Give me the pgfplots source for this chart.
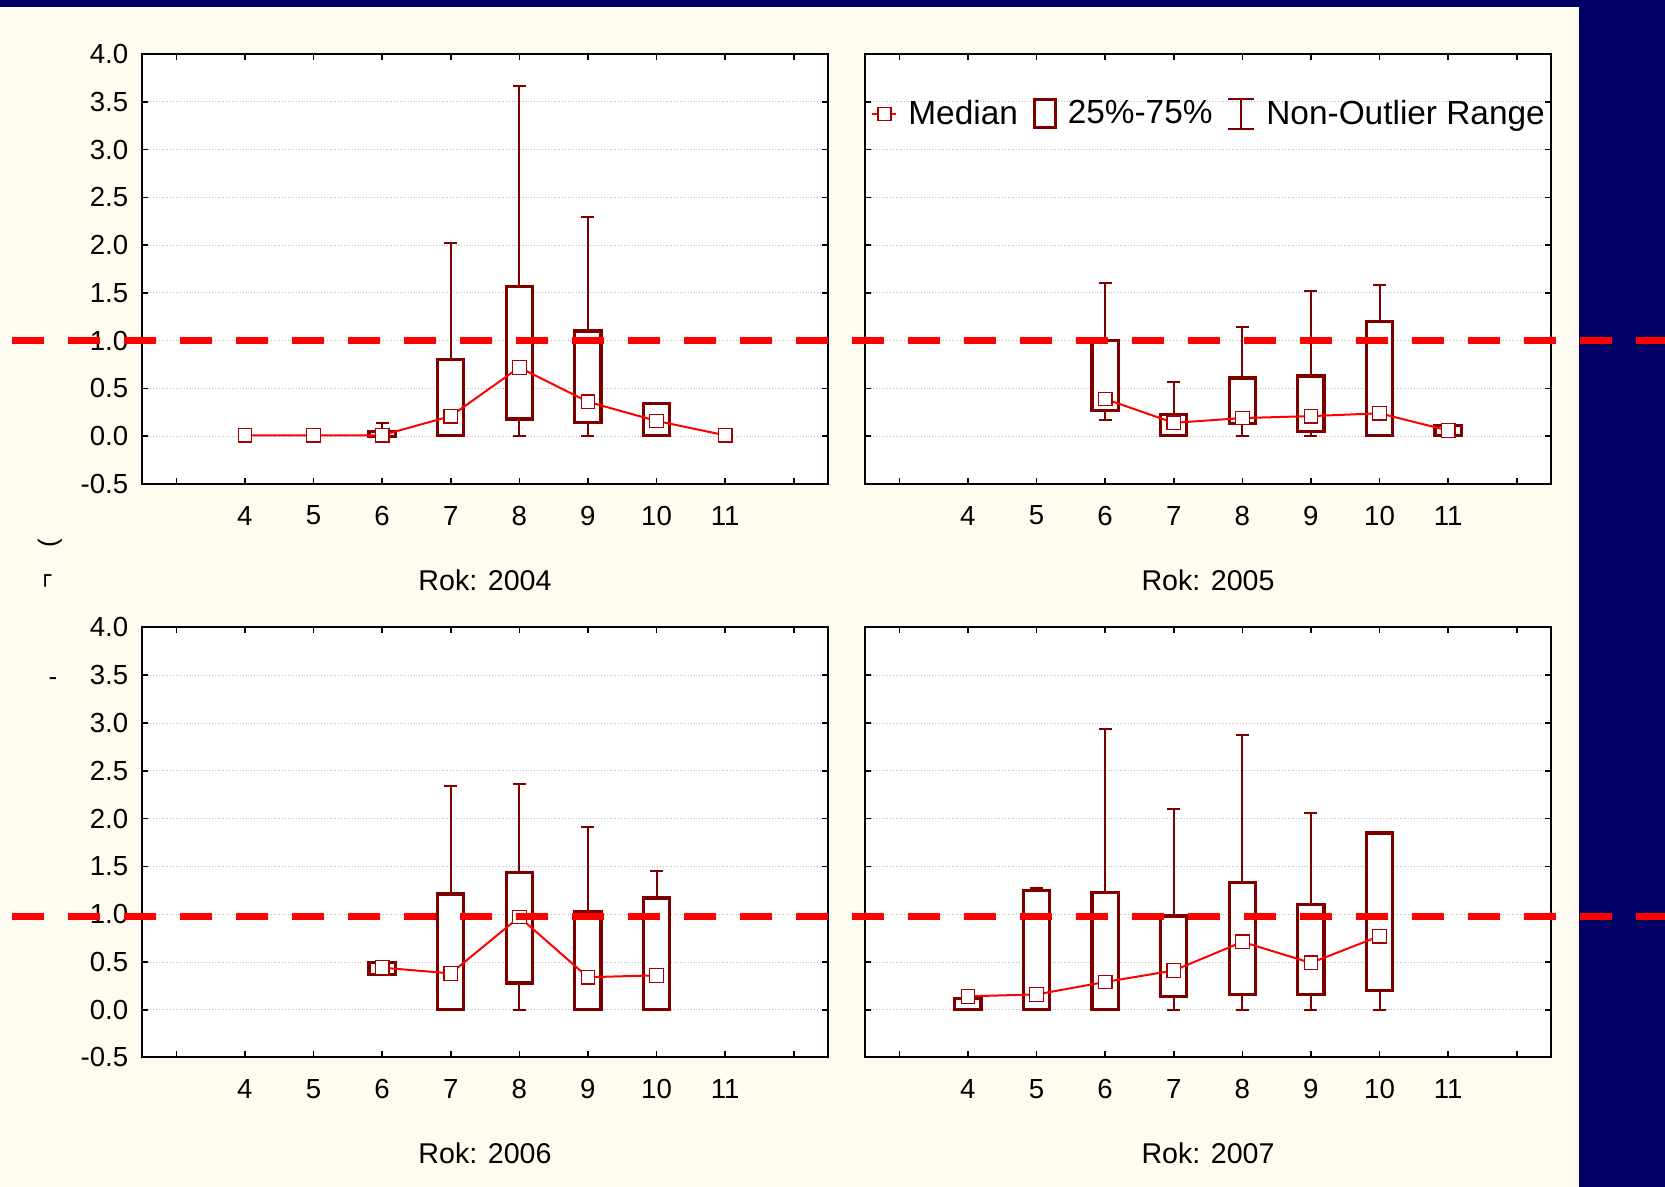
\documentclass[border=0pt]{standalone}
\usepackage{pgfplots}
\pgfplotsset{compat=1.18}
\usepgfplotslibrary{statistics}
\usepackage{fontspec}
\setmainfont{Liberation Sans}

\definecolor{cream}{RGB}{255,251,240}
\definecolor{navy}{RGB}{0,0,102}
\definecolor{boxred}{RGB}{128,0,0}
\definecolor{medred}{RGB}{255,0,0}

\pgfplotsset{
  panel/.style={
    scale only axis, width=343pt, height=215pt, anchor=south west,
    xmin=2.5, xmax=12.5, ymin=-0.5, ymax=4,
    xtick={3,4,5,6,7,8,9,10,11,12},
    xticklabels={,4,5,6,7,8,9,10,11,},
    ytick={-0.5,0,0.5,1,1.5,2,2.5,3,3.5,4},
    ymajorgrids,
    grid style={gray!55, densely dotted, line width=0.4pt},
    axis background/.style={fill=white},
    axis line style={black, line width=1pt},
    major tick style={black, line width=0.8pt},
    major tick length=3pt,
    tick label style={font=\fontsize{13.8}{16}\selectfont},
    xticklabel style={anchor=center, yshift=-15.8pt},
    yticklabel style={anchor=east, xshift=-3.4pt,
      /pgf/number format/fixed, /pgf/number format/fixed zerofill,
      /pgf/number format/precision=1},
    /pgf/number format/assume math mode=true,
    xlabel style={at={(axis description cs:0.5,0)}, anchor=center, yshift=-48pt,
      font=\fontsize{14.3}{17}\selectfont},
    boxplot/draw direction=y,
    boxplot/box extend=0.38,
    boxplot/whisker extend=0.19,
    boxplot/every box/.style={draw=boxred, line width=1.6pt, fill=white},
    boxplot/every whisker/.style={draw=boxred, line width=1pt},
    boxplot/draw/median/.code={},
  },
  medline/.style={medred, line width=1pt, mark=square*, mark size=3.4pt,
    mark options={solid, fill=white, draw=boxred!70!red, line width=0.6pt}},
}

% position, lower whisker, lower quartile, median, upper quartile, upper whisker
\newcommand{\bx}[6]{\addplot[draw=boxred, boxplot prepared={draw position=#1,
  lower whisker=#2, lower quartile=#3, median=#4,
  upper quartile=#5, upper whisker=#6}] coordinates {};}

\begin{document}
\begin{tikzpicture}
\useasboundingbox (0,0) rectangle (832.5pt,593.5pt);
\fill[cream] (0,0) rectangle (832.5pt,593.5pt);
\fill[navy] (789.5pt,0) rectangle (832.5pt,593.5pt);
\fill[navy] (0,590.2pt) rectangle (832.5pt,593.5pt);

% remains of a cut-off axis title
\node[rotate=90, font=\fontsize{13}{15}\selectfont, inner sep=0pt] at (25pt,322pt) {(};
\node[rotate=90, font=\fontsize{13}{15}\selectfont, inner sep=0pt] at (24.5pt,303pt) {¬};
\node[font=\fontsize{13}{15}\selectfont, inner sep=0pt] at (26.5pt,252.5pt) {-};

% 2004
\begin{axis}[panel, at={(71pt,351.5pt)}, xlabel={Rok: 2004}]
\bx{6}{0}{0}{0.01}{0.05}{0.14}
\bx{7}{0}{0.01}{0.21}{0.80}{2.02}
\bx{8}{0}{0.18}{0.72}{1.57}{3.66}
\bx{9}{0}{0.14}{0.36}{1.10}{2.29}
\bx{10}{0}{0.01}{0.16}{0.34}{0.35}
\addplot[medline] coordinates {(4,0.01) (5,0.01) (6,0.01) (7,0.21) (8,0.72) (9,0.36) (10,0.16) (11,0.01)};
\end{axis}

% 2005
\begin{axis}[panel, at={(432.5pt,351.5pt)}, xlabel={Rok: 2005}, yticklabels={},
  legend style={draw=none, fill=none, inner sep=0pt,
    at={(axis description cs:0,0.861)}, xshift=3pt, anchor=west,
    font=\fontsize{16.7}{20}\selectfont,
    /tikz/every odd column/.append style={column sep=3.5pt},
    /tikz/every even column/.append style={column sep=5.4pt}},
  legend columns=3]
\addlegendimage{legend image code/.code={
  \draw[medred, line width=1pt] (0pt,0pt) -- (12pt,0pt);
  \draw[boxred!70!red, fill=white, line width=0.6pt] (2.75pt,-3.25pt) rectangle (9.25pt,3.25pt);}}
\addlegendentry{Median}
\addlegendimage{legend image code/.code={
  \draw[boxred, line width=1.5pt, fill=white] (0.75pt,-7pt) rectangle (11.25pt,7pt);}}
\addlegendentry{25\%-75\%}
\addlegendimage{legend image code/.code={
  \draw[boxred, line width=1pt] (0pt,-7.6pt) -- (13pt,-7.6pt) (6.5pt,-7.6pt) -- (6.5pt,7.6pt) (0pt,7.6pt) -- (13pt,7.6pt);}}
\addlegendentry{Non-Outlier Range}
\bx{6}{0.17}{0.27}{0.39}{1.00}{1.60}
\bx{7}{0}{0.01}{0.14}{0.23}{0.57}
\bx{8}{0}{0.13}{0.19}{0.61}{1.14}
\bx{9}{0}{0.05}{0.21}{0.63}{1.52}
\bx{10}{0}{0.01}{0.24}{1.20}{1.58}
\bx{11}{0.01}{0.01}{0.06}{0.11}{0.11}
\addplot[medline] coordinates {(6,0.39) (7,0.14) (8,0.19) (9,0.21) (10,0.24) (11,0.06)};
\end{axis}

% 2006
\begin{axis}[panel, at={(71pt,64.75pt)}, xlabel={Rok: 2006}]
\bx{6}{0.36}{0.37}{0.44}{0.49}{0.49}
\bx{7}{0}{0}{0.38}{1.21}{2.34}
\bx{8}{0}{0.28}{0.97}{1.44}{2.36}
\bx{9}{0}{0}{0.34}{1.03}{1.91}
\bx{10}{0}{0}{0.36}{1.17}{1.45}
\addplot[medline] coordinates {(6,0.44) (7,0.38) (8,0.97) (9,0.34) (10,0.36)};
\end{axis}

% 2007
\begin{axis}[panel, at={(432.5pt,64.75pt)}, xlabel={Rok: 2007}, yticklabels={}]
\bx{4}{0}{0}{0.12}{0.12}{0.12}
\bx{5}{0}{0}{0.16}{1.25}{1.27}
\bx{6}{0}{0}{0.29}{1.23}{2.94}
\bx{7}{0}{0.14}{0.41}{0.98}{2.10}
\bx{8}{0}{0.16}{0.71}{1.33}{2.88}
\bx{9}{0}{0.16}{0.49}{1.10}{2.06}
\bx{10}{0}{0.20}{0.77}{1.85}{1.86}
\addplot[medline] coordinates {(4,0.14) (5,0.16) (6,0.29) (7,0.41) (8,0.71) (9,0.49) (10,0.77)};
\end{axis}

% red threshold lines across the slide
\draw[medred, line width=3.65pt, dash pattern=on 16pt off 12pt] (6pt,423.2pt) -- (840pt,423.2pt);
\draw[medred, line width=3.65pt, dash pattern=on 16pt off 12pt] (6pt,135.2pt) -- (840pt,135.2pt);
\end{tikzpicture}
\end{document}
